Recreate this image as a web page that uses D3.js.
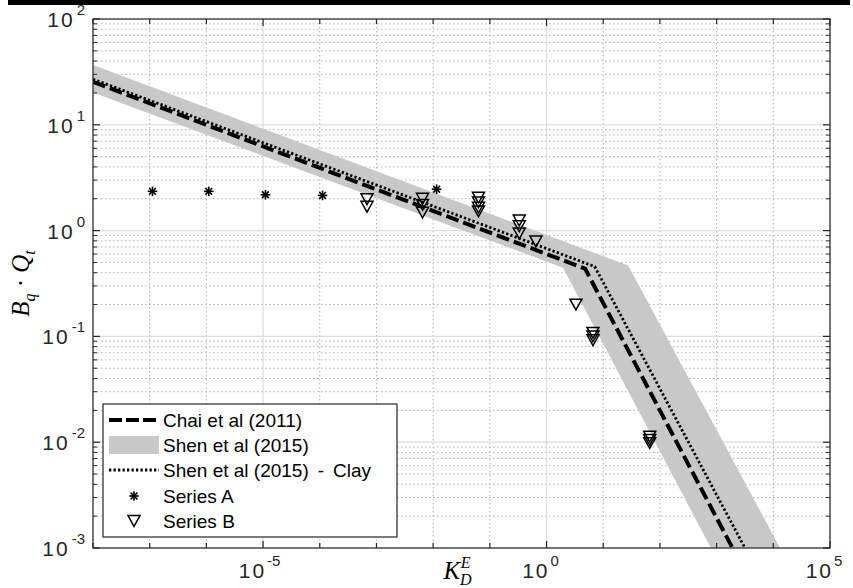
<!DOCTYPE html>
<html>
<head>
<meta charset="utf-8">
<script src="https://cdn.jsdelivr.net/npm/d3@7"></script>
<style>
  html, body { margin: 0; padding: 0; background: #fff; }
  svg { display: block; }
  .tick-label { font-family: "Liberation Sans", Arial, sans-serif; fill: #262626; }
  .legend-text { font-family: "Liberation Sans", Arial, sans-serif; font-size: 19px; fill: #000; }
  .axis-title { font-family: "Liberation Serif", "DejaVu Serif", serif; font-style: italic; fill: #000; }
</style>
</head>
<body>
<svg id="chart" width="853" height="588"></svg>
<script>
// ---------------- data ----------------
const xDomain = [1e-8, 1e5];
const yDomain = [1e-3, 1e2];
const xMajorTickExps = [-5, 0, 5];
const yMajorTickExps = [-3, -2, -1, 0, 1, 2];

// Chai et al (2011) - dashed
const chaiX = [1e-8, Math.pow(10, 0.68), Math.pow(10, 3.28)];
const chaiY = [25.5, Math.pow(10, -0.36), 1e-3];

// Shen et al (2015) - clay, dotted
const clayX = [1e-8, Math.pow(10, 0.85), Math.pow(10, 3.50)];
const clayY = [27.0, Math.pow(10, -0.34), 1e-3];

// Shen et al (2015) band - upper and lower boundaries
const bandUpperX = [1e-8, Math.pow(10, 1.44), Math.pow(10, 4.12)];
const bandUpperY = [36.8, Math.pow(10, -0.33), 1e-3];
const bandLowerX = [1e-8, Math.pow(10, 0.29), Math.pow(10, 2.90)];
const bandLowerY = [20.2, Math.pow(10, -0.35), 1e-3];

// Series A (asterisks)
const seriesAX = [1.12e-7, 1.1e-6, 1.1e-5, 1.12e-4, 1.15e-2];
const seriesAY = [2.35, 2.35, 2.18, 2.15, 2.46];

// Series B (down triangles)
const seriesBX = [6.8e-4, 6.8e-4,
                  6.5e-3, 6.5e-3, 6.5e-3,
                  6.3e-2, 6.3e-2, 6.3e-2, 6.3e-2,
                  0.33, 0.33, 0.33,
                  0.65,
                  3.3,
                  6.6, 6.6, 6.6,
                  66, 66, 66];
const seriesBY = [1.98, 1.68,
                  2.0, 1.75, 1.48,
                  2.05, 1.85, 1.65, 1.52,
                  1.25, 1.1, 0.94,
                  0.79,
                  0.2,
                  0.108, 0.1, 0.092,
                  0.0113, 0.0105, 0.0098];

const legendLabels = ["Chai et al (2011)", "Shen et al (2015)", ["Shen et al (2015)", "-", "Clay"], "Series A", "Series B"];

// ---------------- layout ----------------
const W = 853, H = 588;
const plot = { left: 93, right: 830, top: 19, bottom: 548 };

const svg = d3.select("#chart");
svg.append("rect").attr("width", W).attr("height", H).attr("fill", "#fff");
// top black bar
svg.append("rect").attr("x", 8).attr("y", 0).attr("width", 842).attr("height", 5).attr("fill", "#000");

const x = d3.scaleLog().domain(xDomain).range([plot.left, plot.right]);
const y = d3.scaleLog().domain(yDomain).range([plot.bottom, plot.top]);

const g = svg.append("g");
const clipId = "plotclip";
svg.append("clipPath").attr("id", clipId).append("rect")
  .attr("x", plot.left).attr("y", plot.top)
  .attr("width", plot.right - plot.left).attr("height", plot.bottom - plot.top);

// ---------------- grids ----------------
const xDecades = d3.range(-8, 6).map(e => Math.pow(10, e));
const xMajor = xMajorTickExps.map(e => Math.pow(10, e));
const xMinor = xDecades.filter(v => !xMajorTickExps.includes(Math.round(Math.log10(v))));
const yMajor = yMajorTickExps.map(e => Math.pow(10, e));
const yMinor = [];
for (let e = -3; e < 2; e++) for (let k = 2; k <= 9; k++) yMinor.push(k * Math.pow(10, e));

const grid = g.append("g");
// minor dotted
grid.selectAll(".ymin").data(yMinor).enter().append("line")
  .attr("x1", plot.left).attr("x2", plot.right)
  .attr("y1", d => y(d)).attr("y2", d => y(d))
  .attr("stroke", "#b0b0b0").attr("stroke-width", 1).attr("stroke-dasharray", "1.5,2.5");
grid.selectAll(".xmin").data(xMinor).enter().append("line")
  .attr("y1", plot.top).attr("y2", plot.bottom)
  .attr("x1", d => x(d)).attr("x2", d => x(d))
  .attr("stroke", "#b0b0b0").attr("stroke-width", 1).attr("stroke-dasharray", "1.5,2.5");
// major solid
grid.selectAll(".ymaj").data(yMajor).enter().append("line")
  .attr("x1", plot.left).attr("x2", plot.right)
  .attr("y1", d => y(d)).attr("y2", d => y(d))
  .attr("stroke", "#dcdcdc").attr("stroke-width", 1.2);
grid.selectAll(".xmaj").data(xMajor).enter().append("line")
  .attr("y1", plot.top).attr("y2", plot.bottom)
  .attr("x1", d => x(d)).attr("x2", d => x(d))
  .attr("stroke", "#dcdcdc").attr("stroke-width", 1.2);

// ---------------- band ----------------
const data = g.append("g").attr("clip-path", `url(#${clipId})`);
const upperPts = bandUpperX.map((v, i) => [x(v), y(bandUpperY[i])]);
const lowerPts = bandLowerX.map((v, i) => [x(v), y(bandLowerY[i])]);
const bandPoly = upperPts.concat(lowerPts.slice().reverse());
data.append("path")
  .attr("d", d3.line()(bandPoly) + "Z")
  .attr("fill", "#c8c8c8").attr("stroke", "none");

const line = d3.line().x(d => x(d[0])).y(d => y(d[1]));

// Chai dashed
data.append("path")
  .datum(chaiX.map((v, i) => [v, chaiY[i]]))
  .attr("d", line)
  .attr("fill", "none").attr("stroke", "#000").attr("stroke-width", 4)
  .attr("stroke-dasharray", "13,5");

// Clay dotted
data.append("path")
  .datum(clayX.map((v, i) => [v, clayY[i]]))
  .attr("d", line)
  .attr("fill", "none").attr("stroke", "#000").attr("stroke-width", 2.8)
  .attr("stroke-dasharray", "2.3,2.2");

// ---------------- markers ----------------
function asterisk(sel, cx, cy, r) {
  const gg = sel.append("g").attr("transform", `translate(${cx},${cy})`);
  for (let a = 0; a < 180; a += 45) {
    const rad = a * Math.PI / 180;
    gg.append("line")
      .attr("x1", -r * Math.cos(rad)).attr("y1", -r * Math.sin(rad))
      .attr("x2", r * Math.cos(rad)).attr("y2", r * Math.sin(rad))
      .attr("stroke", "#000").attr("stroke-width", 1.6);
  }
}
function triDown(sel, cx, cy, s) {
  const h = s * 0.9;
  sel.append("path")
    .attr("d", `M${cx - s / 2},${cy - h / 2} L${cx + s / 2},${cy - h / 2} L${cx},${cy + h / 2} Z`)
    .attr("fill", "none").attr("stroke", "#000").attr("stroke-width", 1.5);
}
const markers = g.append("g");
seriesAX.forEach((v, i) => asterisk(markers, x(v), y(seriesAY[i]), 4.8));
seriesBX.forEach((v, i) => triDown(markers, x(v), y(seriesBY[i]), 12));

// ---------------- axes box & ticks ----------------
const axes = g.append("g");
axes.append("rect")
  .attr("x", plot.left).attr("y", plot.top)
  .attr("width", plot.right - plot.left).attr("height", plot.bottom - plot.top)
  .attr("fill", "none").attr("stroke", "#262626").attr("stroke-width", 1.2);

// x ticks (every decade), both bottom & top, inward
xDecades.forEach(v => {
  const isMaj = xMajorTickExps.includes(Math.round(Math.log10(v)));
  const len = isMaj ? 7 : 5;
  axes.append("line").attr("x1", x(v)).attr("x2", x(v))
    .attr("y1", plot.bottom).attr("y2", plot.bottom - len)
    .attr("stroke", "#262626").attr("stroke-width", 1.2);
  axes.append("line").attr("x1", x(v)).attr("x2", x(v))
    .attr("y1", plot.top).attr("y2", plot.top + len)
    .attr("stroke", "#262626").attr("stroke-width", 1.2);
});
// y ticks
yMajor.forEach(v => {
  [[plot.left, 1], [plot.right, -1]].forEach(([x0, dir]) => {
    axes.append("line").attr("x1", x0).attr("x2", x0 + dir * 7)
      .attr("y1", y(v)).attr("y2", y(v)).attr("stroke", "#262626").attr("stroke-width", 1.2);
  });
});
yMinor.forEach(v => {
  [[plot.left, 1], [plot.right, -1]].forEach(([x0, dir]) => {
    axes.append("line").attr("x1", x0).attr("x2", x0 + dir * 4)
      .attr("y1", y(v)).attr("y2", y(v)).attr("stroke", "#262626").attr("stroke-width", 1);
  });
});

// tick labels
yMajorTickExps.forEach(e => {
  const t = axes.append("text").attr("class", "tick-label")
    .attr("x", plot.left - 8).attr("y", y(Math.pow(10, e)) + 8)
    .attr("text-anchor", "end");
  t.append("tspan").attr("font-size", 21).attr("letter-spacing", 2).text("10");
  t.append("tspan").attr("font-size", 15).attr("dy", -12).attr("dx", 2).text(String(e));
});
xMajorTickExps.forEach(e => {
  const tx = x(Math.pow(10, e));
  axes.append("text").attr("class", "tick-label")
    .attr("x", tx + 3).attr("y", plot.bottom + 30)
    .attr("text-anchor", "end").attr("font-size", 21).attr("letter-spacing", 2).text("10");
  axes.append("text").attr("class", "tick-label")
    .attr("x", tx + 4).attr("y", plot.bottom + 18)
    .attr("text-anchor", "start").attr("font-size", 15).text(String(e));
});

// axis titles
const xt = svg.append("text").attr("class", "axis-title")
  .attr("x", (plot.left + plot.right) / 2 - 4).attr("y", 579)
  .attr("text-anchor", "middle").attr("font-size", 25);
xt.append("tspan").text("K");
xt.append("tspan").attr("font-size", 16).attr("dy", 6).attr("dx", 0).text("D");
xt.append("tspan").attr("font-size", 16).attr("dy", -17).attr("dx", -11).text("E");

const yt = svg.append("text").attr("class", "axis-title")
  .attr("transform", `translate(29,${(plot.top + plot.bottom) / 2}) rotate(-90)`)
  .attr("text-anchor", "middle").attr("font-size", 25);
yt.append("tspan").text("B");
yt.append("tspan").attr("font-size", 16).attr("dy", 6).text("q");
yt.append("tspan").attr("dy", -6).attr("font-style", "normal").text(" \u00B7 ");
yt.append("tspan").text("Q");
yt.append("tspan").attr("font-size", 16).attr("dy", 6).text("t");

// ---------------- legend ----------------
const leg = svg.append("g");
const lg = { x: 103, y: 404, w: 294, h: 133 };
leg.append("rect").attr("x", lg.x).attr("y", lg.y).attr("width", lg.w).attr("height", lg.h)
  .attr("fill", "#fff").attr("stroke", "#262626").attr("stroke-width", 1.2);
const rowY = [420, 445, 470, 496, 521];
const sx0 = 109, sx1 = 159, tx0 = 163;
// row 0: dashed
leg.append("line").attr("x1", sx0).attr("x2", sx1).attr("y1", rowY[0]).attr("y2", rowY[0])
  .attr("stroke", "#000").attr("stroke-width", 4).attr("stroke-dasharray", "13,4");
// row 1: grey patch
leg.append("rect").attr("x", sx0).attr("y", rowY[1] - 9).attr("width", sx1 - sx0).attr("height", 18)
  .attr("fill", "#c8c8c8");
// row 2: dotted
leg.append("line").attr("x1", sx0).attr("x2", sx1).attr("y1", rowY[2]).attr("y2", rowY[2])
  .attr("stroke", "#000").attr("stroke-width", 2.8).attr("stroke-dasharray", "2.3,2.2");
// row 3: asterisk
asterisk(leg, (sx0 + sx1) / 2, rowY[3], 4.8);
// row 4: triangle
triDown(leg, (sx0 + sx1) / 2, rowY[4], 12);
legendLabels.forEach((t, i) => {
  const te = leg.append("text").attr("class", "legend-text")
    .attr("x", tx0).attr("y", rowY[i] + 7);
  if (Array.isArray(t)) {
    te.append("tspan").text(t[0]);
    te.append("tspan").attr("dx", 9).text(t[1]);
    te.append("tspan").attr("dx", 9).text(t[2]);
  } else {
    te.text(t);
  }
});
</script>
</body>
</html>
